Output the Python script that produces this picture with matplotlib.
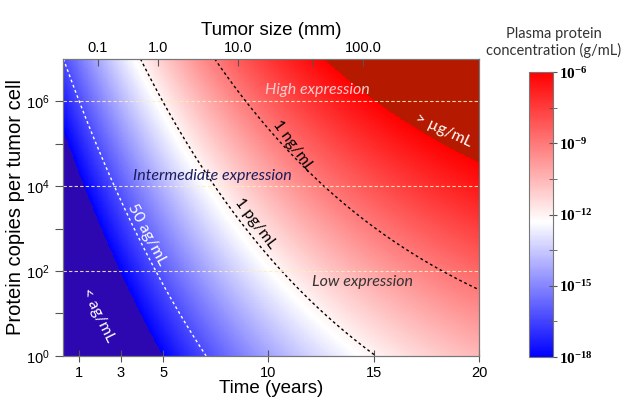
# heat map of plasma protein concentration vs tumor age and copies per cell
# save to out.png

import numpy as np
import matplotlib
matplotlib.use('Agg')
import matplotlib.pyplot as plt
from matplotlib.colors import LinearSegmentedColormap, Normalize

plt.rcParams['font.family'] = ['Liberation Sans', 'DejaVu Sans']
plt.rcParams['mathtext.fontset'] = 'custom'
plt.rcParams['mathtext.rm'] = 'Liberation Sans'
plt.rcParams['mathtext.bf'] = 'Liberation Serif:bold'

# axis ranges (years, log10 copies per cell)
time_range = [0.25, 20]
log_copies_range = [0, 7]

# bottom axis ticks (years)
time_ticks = [1, 3, 5, 10, 15, 20]

# top axis: tumor size ticks (position in years)
size_tick_times = [1.9, 4.76, 8.57, 12.1, 14.5]
size_tick_labels = ['0.1', '1.0', '10.0', '', '100.0']

# left axis decades
copy_decades = [0, 1, 2, 3, 4, 5, 6]
copy_labels = [r'$\mathregular{10^{0}}$', '', r'$\mathregular{10^{2}}$', '',
               r'$\mathregular{10^{4}}$', '', r'$\mathregular{10^{6}}$']

# expression level boundaries (copies per cell)
expression_lines = [1e2, 1e4, 1e6]

# gompertz growth of tumor diameter: log10 d = A + B*(1 - exp(-k t))
growth_A = -1.826
growth_B = 5.24
growth_k = 0.09
# log10 g/mL contributed per copy per mm^3 of tumor
log_offset = -18.2

# contour levels, log10 g/mL
contour_levels = [np.log10(5e-17), -12, -9]
contour_colors = ['white', 'black', 'black']

# colour scale, log10 g/mL
cbar_range = [-18, -6]
cbar_ticks = [-18, -15, -12, -9, -6]
cbar_minor = [-16.5, -13.5, -10.5, -7.5]


def log_conc(t, log_n):
    log_d = growth_A + growth_B * (1 - np.exp(-growth_k * t))
    return log_n + 3 * log_d + log_offset


t = np.linspace(time_range[0], time_range[1], 500)
ln = np.linspace(log_copies_range[0], log_copies_range[1], 400)
T, LN = np.meshgrid(t, ln)
Z = log_conc(T, LN)
N = 10 ** LN

cmap = LinearSegmentedColormap.from_list(
    'bwr_plasma', [(0, '#0000ff'), (0.475, '#ffffff'), (1, '#ff0000')])
cmap.set_under('#2d08b0')
cmap.set_over('#b51a00')
norm = Normalize(vmin=cbar_range[0], vmax=cbar_range[1])

fig = plt.figure(figsize=(6.24, 4.03), dpi=100)
ax = fig.add_axes([0.101, 0.117, 0.667, 0.737])

mesh = ax.pcolormesh(T, N, Z, cmap=cmap, norm=norm, shading='auto',
                     rasterized=True)
ax.set_yscale('log')
ax.set_xlim(time_range)
ax.set_ylim(10 ** log_copies_range[0], 10 ** log_copies_range[1])

ax.contour(T, N, Z, levels=contour_levels, colors=contour_colors,
           linestyles=[(0, (2, 2))], linewidths=1.0)

for y in expression_lines:
    ax.axhline(y, color='#fbeec0', lw=0.8, ls=(0, (3, 2)), alpha=0.9)

# text labels inside the map
txt = dict(family=['Lato', 'DejaVu Sans'], fontsize=11.5, ha='center', va='center')
ax.text(12.33, 10 ** 6.26, 'High expression', color='#f6cccc', style='italic', **txt)
ax.text(7.33, 10 ** 4.24, 'Intermediate expression', color='#1c1c5c', style='italic', **txt)
ax.text(14.48, 10 ** 1.74, 'Low expression', color='#333333', style='italic', **txt)
ax.text(11.19, 10 ** 4.96, '1 ng/mL', color='black', rotation=-54, **txt)
ax.text(9.38, 10 ** 3.13, '1 pg/mL', color='black', rotation=-53, **txt)
ax.text(4.24, 10 ** 2.85, '50 ag/mL', color='white', rotation=-62, **txt)
ax.text(1.9, 10 ** 0.96, '< ag/mL', color='white', rotation=-64, **txt)
ax.text(18.33, 10 ** 5.32, '> µg/mL', color='white', rotation=-25, **txt)

ax.set_xticks(time_ticks)
ax.set_xlabel('Time (years)', fontsize=13.5, labelpad=0)
ax.set_yticks([10.0 ** d for d in copy_decades])
ax.set_yticklabels(copy_labels)
ax.yaxis.set_minor_locator(matplotlib.ticker.NullLocator())
ax.set_ylabel('Protein copies per tumor cell', fontsize=14.5, labelpad=1)
ax.tick_params(axis='x', direction='inout', length=8, labelsize=10.5,
               color='#555555', pad=3)
ax.tick_params(axis='y', direction='out', length=6, labelsize=10.5,
               color='#555555')
for sp in ax.spines.values():
    sp.set_color('#777777')

top = ax.twiny()
top.set_xlim(time_range)
top.set_xticks(size_tick_times)
top.set_xticklabels(size_tick_labels)
top.tick_params(axis='x', direction='in', length=5, labelsize=10.5,
                color='#555555', pad=3)
top.set_xlabel('Tumor size (mm)', fontsize=13.5, labelpad=4)
for sp in top.spines.values():
    sp.set_color('#777777')

# colorbar
cax = fig.add_axes([0.848, 0.114, 0.0385, 0.707])
cb = fig.colorbar(mesh, cax=cax, extend='neither')
cb.set_ticks(cbar_ticks)
cb.set_ticklabels([r'$\mathbf{10^{%d}}$' % v for v in cbar_ticks])
cb.ax.yaxis.set_ticks(cbar_minor, minor=True)
cb.ax.tick_params(which='both', direction='inout', length=6, color='#555555',
                  labelsize=11, pad=1)
cb.outline.set_edgecolor('#777777')
cb.outline.set_linewidth(0.8)

fig.text(0.887, 0.895, 'Plasma protein\nconcentration (g/mL)', ha='center',
         va='center', fontsize=10.5, family=['Lato', 'DejaVu Sans'],
         color='#333333', linespacing=1.15)

fig.savefig('out.png', dpi=100)
